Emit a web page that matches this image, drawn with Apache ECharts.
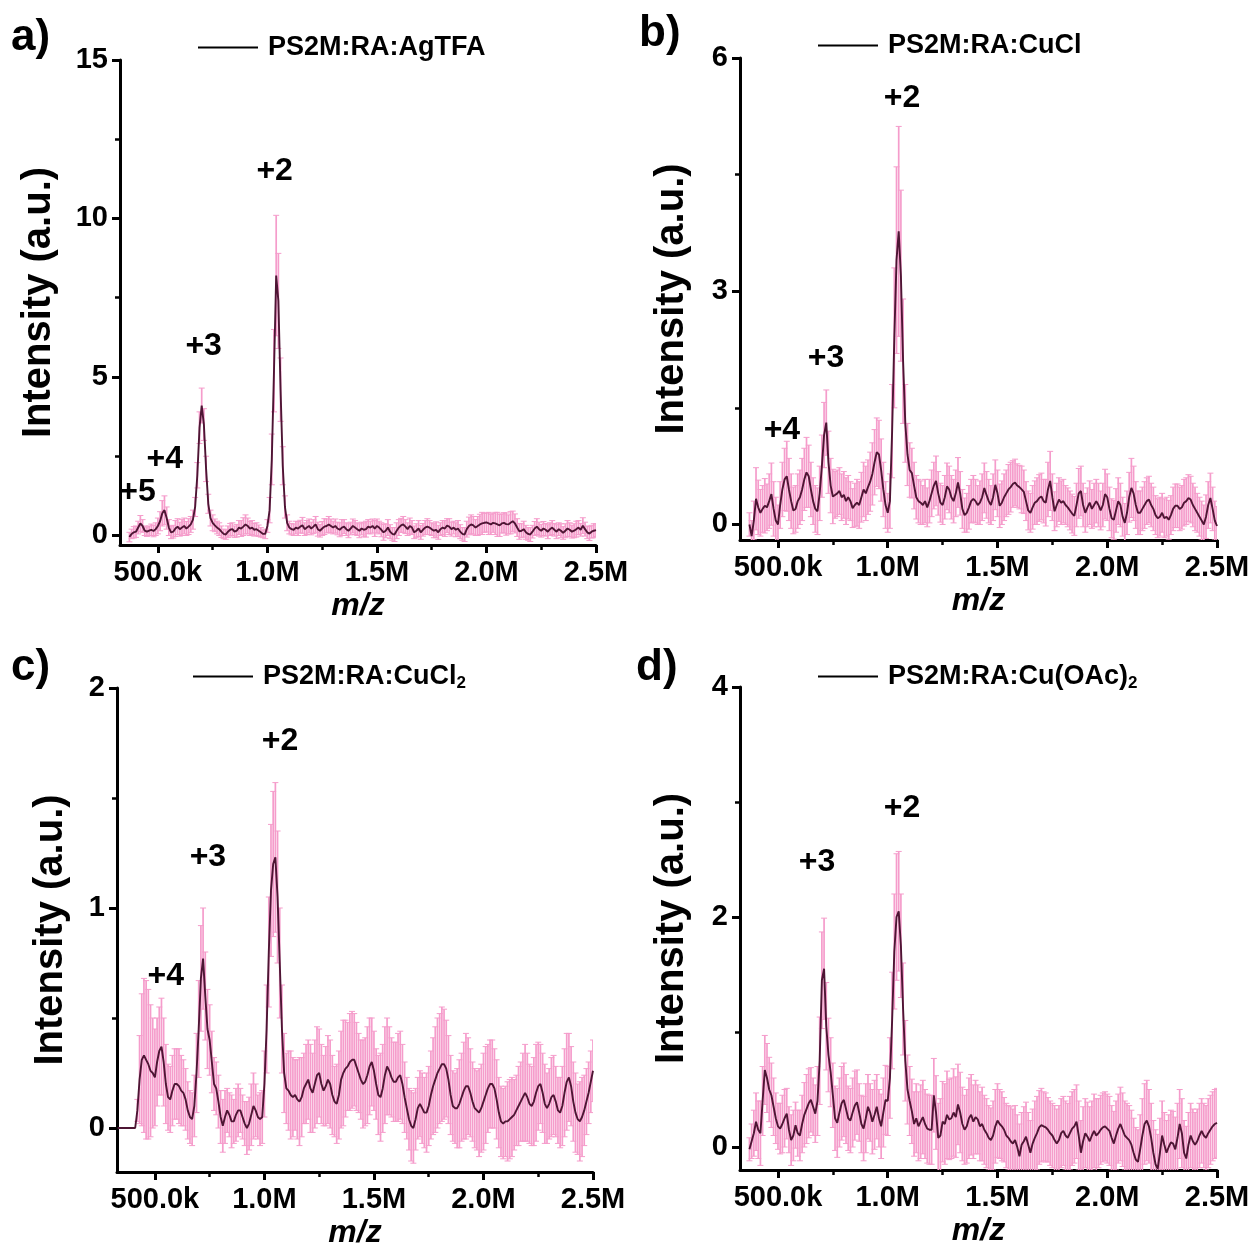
<!DOCTYPE html>
<html>
<head>
<meta charset="utf-8">
<script src="https://cdn.jsdelivr.net/npm/echarts@6/dist/echarts.min.js"></script>
<style>
  html, body { margin: 0; padding: 0; background: #ffffff; }
  #chart { width: 1253px; height: 1249px; }
</style>
</head>
<body>
<div id="chart"></div>
<script>
// m/z sampling grid, in thousands (kDa)
const MZ_K = [
  330, 340, 350, 360, 370, 380, 390,
  400, 410, 420, 430, 440, 450, 460, 470, 480, 490,
  500, 510, 520, 530, 540, 550, 560, 570, 580, 590,
  600, 610, 620, 630, 640, 650, 660, 670, 680, 690,
  700, 710, 720, 730, 740, 750, 760, 770, 780, 790,
  800, 810, 820, 830, 840, 850, 860, 870, 880, 890,
  900, 910, 920, 930, 940, 950, 960, 970, 980, 990,
  1000, 1010, 1020, 1030, 1040, 1050, 1060, 1070, 1080, 1090,
  1100, 1110, 1120, 1130, 1140, 1150, 1160, 1170, 1180, 1190,
  1200, 1210, 1220, 1230, 1240, 1250, 1260, 1270, 1280, 1290,
  1300, 1310, 1320, 1330, 1340, 1350, 1360, 1370, 1380, 1390,
  1400, 1410, 1420, 1430, 1440, 1450, 1460, 1470, 1480, 1490,
  1500, 1510, 1520, 1530, 1540, 1550, 1560, 1570, 1580, 1590,
  1600, 1610, 1620, 1630, 1640, 1650, 1660, 1670, 1680, 1690,
  1700, 1710, 1720, 1730, 1740, 1750, 1760, 1770, 1780, 1790,
  1800, 1810, 1820, 1830, 1840, 1850, 1860, 1870, 1880, 1890,
  1900, 1910, 1920, 1930, 1940, 1950, 1960, 1970, 1980, 1990,
  2000, 2010, 2020, 2030, 2040, 2050, 2060, 2070, 2080, 2090,
  2100, 2110, 2120, 2130, 2140, 2150, 2160, 2170, 2180, 2190,
  2200, 2210, 2220, 2230, 2240, 2250, 2260, 2270, 2280, 2290,
  2300, 2310, 2320, 2330, 2340, 2350, 2360, 2370, 2380, 2390,
  2400, 2410, 2420, 2430, 2440, 2450, 2460, 2470, 2480, 2490,
  2500
];

const SAMPLE_NAMES = ['PS2M:RA:AgTFA', 'PS2M:RA:CuCl', 'PS2M:RA:CuCl2', 'PS2M:RA:Cu(OAc)2'];
const PANEL_LETTERS = ['a)', 'b)', 'c)', 'd)'];

// Panel a: PS2M:RA:AgTFA — mean intensity and half error bar
const AGTFA_I = [
  null, null, null, null, -0.05, 0.05, 0.10,
  0.12, 0.25, 0.38, 0.30, 0.15, 0.12, 0.15, 0.18, 0.14, 0.20,
  0.30, 0.45, 0.70, 0.80, 0.55, 0.25, 0.10, 0.12, 0.22, 0.28,
  0.20, 0.25, 0.30, 0.22, 0.28, 0.35, 0.50, 0.90, 1.90, 3.40,
  4.10, 3.50, 2.10, 1.00, 0.55, 0.40, 0.32, 0.25, 0.20, 0.12,
  0.05, 0.03, 0.12, 0.18, 0.20, 0.12, 0.15, 0.25, 0.22, 0.28,
  0.35, 0.30, 0.22, 0.25, 0.18, 0.20, 0.15, 0.10, 0.05, 0.05,
  0.30, 0.80, 2.40, 5.20, 8.20, 7.40, 4.60, 2.20, 0.90, 0.40,
  0.25, 0.20, 0.18, 0.25, 0.22, 0.28, 0.32, 0.20, 0.25, 0.30,
  0.22, 0.28, 0.35, 0.20, 0.15, 0.22, 0.28, 0.30, 0.35, 0.30,
  0.25, 0.30, 0.22, 0.18, 0.25, 0.28, 0.20, 0.15, 0.22, 0.30,
  0.25, 0.20, 0.15, 0.22, 0.18, 0.20, 0.28, 0.25, 0.30, 0.22,
  0.30, 0.25, 0.18, 0.10, 0.15, 0.25, 0.12, 0.05, 0.03, 0.15,
  0.25, 0.32, 0.35, 0.28, 0.20, 0.30, 0.25, 0.10, 0.15, 0.22,
  0.10, 0.18, 0.25, 0.28, 0.25, 0.20, 0.15, 0.18, 0.10, 0.20,
  0.25, 0.22, 0.31, 0.28, 0.20, 0.25, 0.18, 0.22, 0.12, 0.05,
  0.03, 0.20, 0.30, 0.35, 0.32, 0.25, 0.30, 0.35, 0.38, 0.40,
  0.41, 0.38, 0.35, 0.40, 0.38, 0.35, 0.32, 0.38, 0.40, 0.36,
  0.35, 0.40, 0.45, 0.38, 0.25, 0.13, 0.15, 0.20, 0.10, 0.05,
  0.03, 0.12, 0.22, 0.28, 0.20, 0.15, 0.22, 0.18, 0.12, 0.20,
  0.25, 0.18, 0.12, 0.20, 0.15, 0.08, 0.15, 0.22, 0.18, 0.12,
  0.15, 0.20, 0.25, 0.18, 0.31, 0.20, 0.10, 0.06, 0.12, 0.15,
  0.17
];
const AGTFA_ERR = [
  null, null, null, null, 0.15, 0.15, 0.18,
  0.18, 0.20, 0.25, 0.20, 0.15, 0.15, 0.15, 0.18, 0.18, 0.20,
  0.25, 0.30, 0.40, 0.45, 0.35, 0.25, 0.20, 0.20, 0.25, 0.25,
  0.22, 0.25, 0.25, 0.22, 0.25, 0.25, 0.30, 0.30, 0.40, 0.50,
  0.55, 0.50, 0.40, 0.30, 0.25, 0.25, 0.20, 0.20, 0.20, 0.18,
  0.15, 0.15, 0.18, 0.20, 0.20, 0.18, 0.20, 0.22, 0.25, 0.28,
  0.30, 0.25, 0.22, 0.22, 0.20, 0.20, 0.18, 0.15, 0.12, 0.15,
  0.20, 0.40, 0.80, 1.30, 1.90, 1.50, 1.00, 0.60, 0.35, 0.25,
  0.20, 0.18, 0.18, 0.20, 0.22, 0.20, 0.25, 0.20, 0.22, 0.22,
  0.20, 0.22, 0.25, 0.22, 0.20, 0.22, 0.25, 0.22, 0.25, 0.22,
  0.20, 0.22, 0.20, 0.22, 0.25, 0.22, 0.20, 0.22, 0.20, 0.22,
  0.22, 0.20, 0.22, 0.20, 0.22, 0.25, 0.22, 0.20, 0.22, 0.25,
  0.22, 0.20, 0.22, 0.25, 0.22, 0.25, 0.22, 0.20, 0.22, 0.25,
  0.25, 0.22, 0.25, 0.22, 0.20, 0.25, 0.22, 0.20, 0.22, 0.25,
  0.22, 0.20, 0.22, 0.25, 0.22, 0.20, 0.22, 0.25, 0.22, 0.20,
  0.22, 0.25, 0.22, 0.25, 0.22, 0.20, 0.22, 0.25, 0.22, 0.20,
  0.22, 0.25, 0.28, 0.30, 0.28, 0.25, 0.30, 0.32, 0.35, 0.30,
  0.30, 0.35, 0.32, 0.30, 0.35, 0.38, 0.35, 0.30, 0.32, 0.35,
  0.30, 0.35, 0.32, 0.30, 0.28, 0.25, 0.22, 0.25, 0.22, 0.20,
  0.22, 0.20, 0.22, 0.25, 0.22, 0.20, 0.22, 0.20, 0.22, 0.20,
  0.22, 0.20, 0.22, 0.20, 0.22, 0.20, 0.22, 0.25, 0.22, 0.20,
  0.22, 0.25, 0.22, 0.20, 0.25, 0.22, 0.20, 0.22, 0.20, 0.22,
  0.20
];

// Panel b: PS2M:RA:CuCl
const CUCL_I = [
  null, null, null, null, 0.00, -0.15, 0.05,
  0.33, 0.22, 0.15, 0.20, 0.24, 0.22, 0.30, 0.39, 0.20, 0.05,
  0.00, 0.25, 0.45, 0.58, 0.62, 0.45, 0.30, 0.18, 0.20, 0.30,
  0.35, 0.45, 0.58, 0.67, 0.62, 0.45, 0.30, 0.20, 0.17, 0.40,
  0.75, 1.15, 1.31, 0.80, 0.50, 0.36, 0.38, 0.40, 0.43, 0.35,
  0.38, 0.30, 0.35, 0.30, 0.21, 0.25, 0.28, 0.25, 0.35, 0.45,
  0.40, 0.48, 0.55, 0.65, 0.80, 0.93, 0.90, 0.70, 0.45, 0.25,
  0.15, 0.30, 1.20, 2.40, 3.40, 3.77, 3.20, 2.10, 1.30, 0.90,
  0.70, 0.66, 0.50, 0.35, 0.30, 0.28, 0.25, 0.30, 0.22, 0.30,
  0.40, 0.50, 0.56, 0.40, 0.28, 0.25, 0.35, 0.49, 0.45, 0.35,
  0.30, 0.40, 0.54, 0.40, 0.20, 0.12, 0.15, 0.22, 0.30, 0.33,
  0.30, 0.25, 0.28, 0.35, 0.47, 0.38, 0.30, 0.25, 0.35, 0.51,
  0.40, 0.24, 0.28, 0.35, 0.40, 0.45, 0.48, 0.52, 0.54, 0.50,
  0.48, 0.45, 0.42, 0.30, 0.18, 0.15, 0.22, 0.28, 0.30, 0.34,
  0.36, 0.30, 0.28, 0.45, 0.56, 0.35, 0.17, 0.25, 0.32, 0.28,
  0.30, 0.25, 0.22, 0.18, 0.14, 0.11, 0.25, 0.40, 0.43, 0.25,
  0.15, 0.22, 0.28, 0.20, 0.25, 0.30, 0.25, 0.18, 0.25, 0.39,
  0.35, 0.20, 0.08, 0.06, 0.18, 0.30, 0.25, 0.10, 0.02, 0.15,
  0.35, 0.47, 0.40, 0.25, 0.15, 0.15, 0.20, 0.25, 0.30, 0.32,
  0.25, 0.20, 0.12, 0.08, 0.10, 0.15, 0.08, 0.10, 0.06, 0.12,
  0.20, 0.24, 0.24, 0.20, 0.22, 0.28, 0.30, 0.34, 0.32, 0.25,
  0.20, 0.15, 0.10, 0.05, 0.00, 0.10, 0.25, 0.34, 0.20, 0.05,
  -0.02
];
const CUCL_ERR = [
  null, null, null, null, 0.15, 0.20, 0.25,
  0.40, 0.35, 0.30, 0.30, 0.35, 0.30, 0.35, 0.40, 0.35, 0.30,
  0.25, 0.30, 0.35, 0.40, 0.45, 0.40, 0.35, 0.30, 0.30, 0.35,
  0.35, 0.40, 0.40, 0.45, 0.40, 0.35, 0.30, 0.30, 0.30, 0.35,
  0.40, 0.42, 0.42, 0.40, 0.35, 0.35, 0.30, 0.30, 0.30, 0.30,
  0.30, 0.30, 0.28, 0.25, 0.25, 0.28, 0.30, 0.30, 0.32, 0.35,
  0.35, 0.35, 0.38, 0.40, 0.42, 0.44, 0.44, 0.40, 0.35, 0.30,
  0.25, 0.35, 0.60, 0.90, 1.20, 1.35, 1.10, 0.80, 0.50, 0.40,
  0.35, 0.32, 0.30, 0.28, 0.28, 0.28, 0.25, 0.28, 0.25, 0.28,
  0.30, 0.30, 0.32, 0.28, 0.25, 0.25, 0.28, 0.30, 0.30, 0.28,
  0.28, 0.30, 0.32, 0.28, 0.25, 0.22, 0.25, 0.28, 0.28, 0.30,
  0.28, 0.25, 0.28, 0.30, 0.32, 0.30, 0.28, 0.25, 0.30, 0.32,
  0.30, 0.28, 0.28, 0.30, 0.30, 0.32, 0.32, 0.30, 0.30, 0.28,
  0.28, 0.30, 0.28, 0.25, 0.25, 0.25, 0.28, 0.28, 0.30, 0.30,
  0.30, 0.28, 0.30, 0.35, 0.38, 0.30, 0.25, 0.28, 0.28, 0.28,
  0.28, 0.25, 0.25, 0.25, 0.25, 0.25, 0.28, 0.32, 0.32, 0.28,
  0.25, 0.25, 0.28, 0.25, 0.28, 0.28, 0.28, 0.25, 0.28, 0.32,
  0.30, 0.28, 0.25, 0.25, 0.28, 0.30, 0.28, 0.25, 0.25, 0.28,
  0.32, 0.38, 0.35, 0.30, 0.28, 0.28, 0.28, 0.30, 0.30, 0.30,
  0.28, 0.28, 0.25, 0.25, 0.25, 0.25, 0.25, 0.25, 0.25, 0.25,
  0.28, 0.28, 0.28, 0.28, 0.28, 0.30, 0.30, 0.30, 0.30, 0.28,
  0.28, 0.25, 0.25, 0.25, 0.25, 0.28, 0.30, 0.32, 0.28, 0.25,
  0.25
];

// Panel c: PS2M:RA:CuCl2
const CUCL2_I = [
  0, 0, 0, 0, 0, 0, 0,
  0, 0, 0.08, 0.22, 0.31, 0.33, 0.31, 0.29, 0.26, 0.25,
  0.23, 0.30, 0.35, 0.37, 0.30, 0.20, 0.14, 0.13, 0.17, 0.20,
  0.20, 0.19, 0.17, 0.16, 0.13, 0.08, 0.05, 0.04, 0.10, 0.25,
  0.45, 0.68, 0.77, 0.60, 0.45, 0.40, 0.30, 0.20, 0.18, 0.12,
  0.05, 0.01, 0.05, 0.08, 0.06, 0.03, 0.03, 0.06, 0.08, 0.08,
  0.05, 0.02, 0.00, 0.02, 0.06, 0.10, 0.08, 0.05, 0.04, 0.05,
  0.20, 0.45, 0.80, 1.08, 1.20, 1.23, 1.05, 0.75, 0.45, 0.25,
  0.18, 0.17, 0.15, 0.14, 0.15, 0.13, 0.12, 0.14, 0.18, 0.20,
  0.22, 0.18, 0.16, 0.20, 0.24, 0.25, 0.20, 0.17, 0.19, 0.22,
  0.20, 0.15, 0.12, 0.11, 0.15, 0.22, 0.25, 0.27, 0.28, 0.30,
  0.31, 0.31, 0.28, 0.25, 0.22, 0.20, 0.21, 0.24, 0.28, 0.30,
  0.26, 0.20, 0.15, 0.14, 0.18, 0.24, 0.28, 0.26, 0.23, 0.21,
  0.21, 0.23, 0.24, 0.20, 0.14, 0.09, 0.04, 0.01, 0.00, 0.04,
  0.09, 0.11, 0.09, 0.07, 0.07, 0.10, 0.15, 0.19, 0.22, 0.25,
  0.27, 0.29, 0.29, 0.27, 0.22, 0.15, 0.10, 0.09, 0.09, 0.11,
  0.14, 0.17, 0.19, 0.19, 0.16, 0.12, 0.09, 0.08, 0.07, 0.09,
  0.12, 0.15, 0.18, 0.20, 0.20, 0.18, 0.13, 0.07, 0.03, 0.02,
  0.03, 0.03, 0.04, 0.05, 0.06, 0.08, 0.10, 0.12, 0.14, 0.16,
  0.14, 0.11, 0.10, 0.12, 0.16, 0.19, 0.20, 0.16, 0.11, 0.09,
  0.11, 0.14, 0.15, 0.12, 0.08, 0.07, 0.10, 0.16, 0.21, 0.23,
  0.19, 0.12, 0.07, 0.04, 0.03, 0.05, 0.08, 0.12, 0.16, 0.21,
  0.26
];
const CUCL2_ERR = [
  0, 0, 0, 0, 0, 0, 0,
  0, 0, 0.05, 0.20, 0.30, 0.35, 0.36, 0.34, 0.30, 0.25,
  0.22, 0.20, 0.20, 0.22, 0.20, 0.18, 0.15, 0.15, 0.16, 0.16,
  0.16, 0.17, 0.16, 0.15, 0.14, 0.13, 0.12, 0.12, 0.14, 0.18,
  0.22, 0.24, 0.23, 0.20, 0.18, 0.16, 0.14, 0.12, 0.12, 0.12,
  0.12, 0.12, 0.12, 0.10, 0.10, 0.12, 0.10, 0.12, 0.12, 0.10,
  0.10, 0.10, 0.12, 0.12, 0.14, 0.15, 0.12, 0.10, 0.12, 0.12,
  0.15, 0.20, 0.25, 0.30, 0.33, 0.34, 0.30, 0.25, 0.20, 0.18,
  0.16, 0.18, 0.20, 0.18, 0.16, 0.18, 0.20, 0.18, 0.16, 0.18,
  0.18, 0.20, 0.18, 0.20, 0.22, 0.20, 0.18, 0.16, 0.18, 0.20,
  0.20, 0.18, 0.16, 0.18, 0.20, 0.22, 0.24, 0.22, 0.20, 0.22,
  0.22, 0.21, 0.20, 0.18, 0.18, 0.20, 0.20, 0.22, 0.22, 0.20,
  0.18, 0.16, 0.18, 0.20, 0.20, 0.22, 0.22, 0.20, 0.18, 0.18,
  0.18, 0.20, 0.20, 0.18, 0.16, 0.14, 0.14, 0.16, 0.16, 0.14,
  0.14, 0.15, 0.16, 0.16, 0.18, 0.18, 0.20, 0.22, 0.24, 0.25,
  0.25, 0.26, 0.25, 0.22, 0.20, 0.18, 0.16, 0.16, 0.18, 0.20,
  0.20, 0.22, 0.24, 0.22, 0.20, 0.18, 0.18, 0.18, 0.20, 0.20,
  0.22, 0.22, 0.20, 0.20, 0.20, 0.18, 0.18, 0.16, 0.16, 0.16,
  0.16, 0.18, 0.18, 0.18, 0.16, 0.16, 0.18, 0.18, 0.20, 0.22,
  0.20, 0.18, 0.18, 0.20, 0.22, 0.20, 0.18, 0.18, 0.18, 0.16,
  0.16, 0.18, 0.18, 0.16, 0.15, 0.16, 0.18, 0.20, 0.22, 0.20,
  0.18, 0.18, 0.18, 0.16, 0.18, 0.18, 0.16, 0.15, 0.14, 0.14,
  0.14
];

// Panel d: PS2M:RA:Cu(OAc)2
const CUOAC2_I = [
  null, null, null, null, -0.02, 0.05, 0.12,
  0.22, 0.15, 0.12, 0.40, 0.67, 0.60, 0.50, 0.45, 0.35, 0.25,
  0.18, 0.16, 0.20, 0.25, 0.29, 0.15, 0.06, 0.10, 0.19, 0.12,
  0.10, 0.20, 0.28, 0.33, 0.38, 0.41, 0.35, 0.29, 0.40, 0.75,
  1.45, 1.55, 1.05, 0.80, 0.65, 0.45, 0.25, 0.21, 0.30, 0.38,
  0.41, 0.33, 0.25, 0.23, 0.30, 0.36, 0.39, 0.30, 0.20, 0.16,
  0.25, 0.35, 0.30, 0.22, 0.28, 0.35, 0.25, 0.18, 0.30, 0.41,
  0.40, 0.60, 1.10, 1.70, 2.00, 2.05, 1.75, 1.20, 0.75, 0.50,
  0.40, 0.31, 0.20, 0.25, 0.18, 0.22, 0.26, 0.20, 0.16, 0.15,
  0.15, 0.45, 0.30, 0.08, 0.10, 0.22, 0.20, 0.28, 0.24, 0.25,
  0.30, 0.26, 0.37, 0.30, 0.20, 0.15, 0.18, 0.25, 0.28, 0.22,
  0.26, 0.24, 0.18, 0.20, 0.15, 0.12, 0.08, 0.06, 0.10, 0.18,
  0.23, 0.20, 0.18, 0.15, 0.10, 0.08, 0.05, 0.03, 0.06, 0.00,
  -0.08, 0.02, 0.05, 0.09, 0.02, -0.05, 0.03, 0.08, 0.12, 0.17,
  0.19, 0.18, 0.17, 0.15, 0.12, 0.10, 0.06, 0.03, 0.06, 0.12,
  0.14, 0.10, 0.08, 0.12, 0.16, 0.18, 0.22, 0.10, -0.05, 0.05,
  0.12, 0.09, 0.05, 0.10, 0.14, 0.10, 0.12, 0.15, 0.17, 0.18,
  0.16, 0.14, 0.08, 0.03, 0.10, 0.16, 0.20, 0.15, 0.10, 0.08,
  0.06, 0.02, -0.05, -0.11, -0.13, -0.02, 0.10, 0.20, 0.23, 0.18,
  0.08, -0.05, -0.15, -0.19, -0.05, 0.10, 0.02, -0.05, 0.00, 0.04,
  0.03, -0.02, 0.08, 0.20, 0.12, -0.05, -0.10, 0.02, 0.10, 0.05,
  0.02, 0.05, 0.10, 0.14, 0.10, 0.08, 0.12, 0.15, 0.18, 0.20,
  0.21
];
const CUOAC2_ERR = [
  null, null, null, null, 0.10, 0.15, 0.20,
  0.25, 0.25, 0.28, 0.30, 0.30, 0.30, 0.28, 0.28, 0.25, 0.22,
  0.20, 0.22, 0.25, 0.25, 0.22, 0.20, 0.22, 0.22, 0.20, 0.20,
  0.22, 0.25, 0.28, 0.30, 0.30, 0.28, 0.25, 0.25, 0.30, 0.38,
  0.42, 0.44, 0.38, 0.32, 0.30, 0.28, 0.28, 0.30, 0.30, 0.32,
  0.32, 0.30, 0.28, 0.28, 0.30, 0.30, 0.28, 0.25, 0.25, 0.28,
  0.30, 0.28, 0.25, 0.28, 0.30, 0.28, 0.25, 0.28, 0.30, 0.30,
  0.30, 0.35, 0.42, 0.50, 0.55, 0.52, 0.45, 0.40, 0.35, 0.30,
  0.30, 0.28, 0.28, 0.30, 0.30, 0.32, 0.32, 0.30, 0.30, 0.30,
  0.30, 0.32, 0.32, 0.30, 0.32, 0.35, 0.35, 0.38, 0.35, 0.35,
  0.38, 0.35, 0.35, 0.35, 0.32, 0.30, 0.32, 0.35, 0.35, 0.32,
  0.32, 0.30, 0.30, 0.32, 0.30, 0.30, 0.28, 0.28, 0.30, 0.32,
  0.32, 0.30, 0.30, 0.28, 0.28, 0.28, 0.30, 0.30, 0.30, 0.28,
  0.28, 0.28, 0.30, 0.30, 0.28, 0.28, 0.30, 0.32, 0.32, 0.32,
  0.32, 0.30, 0.30, 0.28, 0.28, 0.28, 0.30, 0.30, 0.30, 0.30,
  0.30, 0.30, 0.30, 0.32, 0.32, 0.32, 0.32, 0.30, 0.28, 0.30,
  0.30, 0.30, 0.30, 0.30, 0.32, 0.32, 0.30, 0.30, 0.30, 0.30,
  0.30, 0.30, 0.28, 0.28, 0.30, 0.30, 0.32, 0.32, 0.30, 0.30,
  0.30, 0.30, 0.30, 0.28, 0.28, 0.30, 0.32, 0.35, 0.35, 0.32,
  0.30, 0.28, 0.30, 0.30, 0.30, 0.30, 0.28, 0.28, 0.28, 0.28,
  0.28, 0.28, 0.30, 0.30, 0.30, 0.28, 0.28, 0.28, 0.28, 0.28,
  0.28, 0.28, 0.28, 0.28, 0.28, 0.28, 0.30, 0.30, 0.30, 0.30,
  0.30
];

// Charge-state annotations: [label, m/z in k, intensity]
const CHARGES_A = [['+5', 407, 1.36], ['+4', 531, 2.40], ['+3', 709, 5.96], ['+2', 1033, 11.48]];
const CHARGES_B = [['+4', 518, 1.21], ['+3', 719, 2.14], ['+2', 1065, 5.48]];
const CHARGES_C = [['+4', 550, 0.69], ['+3', 742, 1.23], ['+2', 1071, 1.76]];
const CHARGES_D = [['+3', 678, 2.48], ['+2', 1065, 2.95]];

// Axis ranges
const X_MIN = 327000, X_MAX = 2500000;
const X_TICKS = [500000, 1000000, 1500000, 2000000, 2500000];
const Y_RANGES = [[-0.3, 15], [-0.2, 6], [-0.2, 2], [-0.2, 4]];
const Y_TICKS = [[0, 5, 10, 15], [0, 3, 6], [0, 1, 2], [0, 2, 4]];
const Y_SPLITS = [3, 2, 2, 2];

// ---- presentation ----
const FONT = "'Liberation Sans', Arial, Helvetica, sans-serif";
const LINE_COLOR = '#4e1534';
const BAR_COLOR = '#f59ccb';

const GRID_RECTS = [
  { left: 120, top: 60, width: 476, height: 485 },
  { left: 740, top: 58, width: 477, height: 482 },
  { left: 117, top: 688, width: 476, height: 484 },
  { left: 740, top: 687, width: 477, height: 483 }
];
const LETTER_POS = [[11, 16], [639, 12], [11, 646], [636, 646]];
const LEGEND_POS = [[198, 34], [818, 32], [193, 663], [818, 663]];
const Y_NAME_GAPS = [61, 48, 46, 48];

const panels = [
  { name: SAMPLE_NAMES[0], y: AGTFA_I, e: AGTFA_ERR, charges: CHARGES_A },
  { name: SAMPLE_NAMES[1], y: CUCL_I, e: CUCL_ERR, charges: CHARGES_B },
  { name: SAMPLE_NAMES[2], y: CUCL2_I, e: CUCL2_ERR, charges: CHARGES_C },
  { name: SAMPLE_NAMES[3], y: CUOAC2_I, e: CUOAC2_ERR, charges: CHARGES_D }
];

function mzLabel(v) {
  return v >= 1e6 ? (v / 1e6).toFixed(1) + 'M' : (v / 1e3).toFixed(1) + 'k';
}

// vertical error bar with short caps
function renderErrorBar(params, api) {
  const x = api.value(0), y = api.value(1), e = api.value(2);
  if (!(e > 0)) return null;
  const top = api.coord([x, y + e]);
  const bot = api.coord([x, y - e]);
  const hw = 3;
  const barStyle = { stroke: BAR_COLOR, lineWidth: 1.7 };
  const capStyle = { stroke: BAR_COLOR, lineWidth: 1 };
  return {
    type: 'group',
    children: [
      { type: 'line', shape: { x1: top[0], y1: top[1], x2: bot[0], y2: bot[1] }, style: barStyle },
      { type: 'line', shape: { x1: top[0] - hw, y1: top[1], x2: top[0] + hw, y2: top[1] }, style: capStyle },
      { type: 'line', shape: { x1: bot[0] - hw, y1: bot[1], x2: bot[0] + hw, y2: bot[1] }, style: capStyle }
    ]
  };
}

// trailing "2" of a copper salt formula is drawn as a subscript
function legendText(name) {
  const m = name.match(/^(.*Cu.*?)(2)$/);
  if (m) return '{n|' + m[1] + '}{s|2}';
  return '{n|' + name + '}';
}

const axisBlack = { color: '#000', width: 3 };

const option = {
  backgroundColor: '#ffffff',
  animation: false,
  title: PANEL_LETTERS.map((t, i) => ({
    text: t, left: LETTER_POS[i][0], top: LETTER_POS[i][1], padding: 0,
    textStyle: { fontFamily: FONT, fontWeight: 'bold', fontSize: 44, color: '#000' }
  })),
  legend: panels.map((p, i) => ({
    data: [{ name: p.name, itemStyle: { color: '#000' } }],
    left: LEGEND_POS[i][0], top: LEGEND_POS[i][1], padding: 0,
    icon: 'rect', itemWidth: 60, itemHeight: 2,
    selectedMode: false,
    formatter: legendText,
    textStyle: {
      color: '#000', padding: [0, 0, 0, 5],
      rich: {
        n: { fontFamily: FONT, fontWeight: 'bold', fontSize: 27, color: '#000', lineHeight: 30 },
        s: { fontFamily: FONT, fontWeight: 'bold', fontSize: 17, color: '#000', lineHeight: 17, verticalAlign: 'bottom' }
      }
    }
  })),
  grid: GRID_RECTS.map(r => Object.assign({ containLabel: false, outerBoundsMode: 'none' }, r)),
  xAxis: panels.map((p, i) => ({
    type: 'value', gridIndex: i, min: X_MIN, max: X_MAX, splitNumber: 5,
    name: 'm/z', nameLocation: 'middle', nameGap: 45, nameMoveOverlap: false,
    nameTextStyle: { fontFamily: FONT, fontWeight: 'bold', fontStyle: 'italic', fontSize: 32, color: '#000' },
    axisLine: { show: true, onZero: false, lineStyle: axisBlack },
    axisTick: { show: true, inside: false, length: 8, lineStyle: axisBlack, customValues: X_TICKS },
    minorTick: { show: true, splitNumber: 2, length: 5, lineStyle: { color: '#000', width: 2.5 } },
    splitLine: { show: false },
    minorSplitLine: { show: false },
    axisLabel: {
      show: true, margin: 13, color: '#000', fontFamily: FONT, fontWeight: 'bold', fontSize: 29,
      formatter: mzLabel, customValues: X_TICKS, hideOverlap: false
    }
  })),
  yAxis: panels.map((p, i) => ({
    type: 'value', gridIndex: i, min: Y_RANGES[i][0], max: Y_RANGES[i][1], splitNumber: Y_SPLITS[i],
    name: 'Intensity (a.u.)', nameLocation: 'middle', nameRotate: 90, nameGap: Y_NAME_GAPS[i], nameMoveOverlap: false,
    nameTextStyle: { fontFamily: FONT, fontWeight: 'bold', fontSize: 40, color: '#000' },
    axisLine: { show: true, onZero: false, lineStyle: axisBlack },
    axisTick: { show: true, inside: false, length: 8, lineStyle: axisBlack, customValues: Y_TICKS[i] },
    minorTick: { show: true, splitNumber: 2, length: 5, lineStyle: { color: '#000', width: 2.5 } },
    splitLine: { show: false },
    minorSplitLine: { show: false },
    axisLabel: {
      show: true, margin: 12, color: '#000', fontFamily: FONT, fontWeight: 'bold', fontSize: 29,
      customValues: Y_TICKS[i], hideOverlap: false
    }
  })),
  series: []
};

panels.forEach((p, i) => {
  const bars = [];
  const line = [];
  MZ_K.forEach((mz, k) => {
    if (p.y[k] === null) return;
    line.push([mz * 1000, p.y[k]]);
    bars.push([mz * 1000, p.y[k], p.e[k]]);
  });
  option.series.push({
    type: 'custom', name: p.name + ' error', xAxisIndex: i, yAxisIndex: i,
    renderItem: renderErrorBar, data: bars, clip: true, silent: true, z: 1,
    encode: { x: 0, y: 1 }
  });
  option.series.push({
    type: 'line', name: p.name, xAxisIndex: i, yAxisIndex: i,
    data: line, showSymbol: false, symbol: 'none', smooth: false, z: 3,
    lineStyle: { color: LINE_COLOR, width: 1.9 },
    itemStyle: { color: LINE_COLOR },
    markPoint: {
      symbol: 'rect', symbolSize: 1, silent: true,
      itemStyle: { color: 'rgba(0,0,0,0)' },
      label: {
        show: true, position: 'inside', formatter: '{b}', color: '#000',
        fontFamily: FONT, fontWeight: 'bold', fontSize: 32
      },
      data: p.charges.map(c => ({ name: c[0], coord: [c[1] * 1000, c[2]] }))
    }
  });
});

const chart = echarts.init(document.getElementById('chart'), null, { renderer: 'canvas' });
chart.setOption(option);
</script>
</body>
</html>
